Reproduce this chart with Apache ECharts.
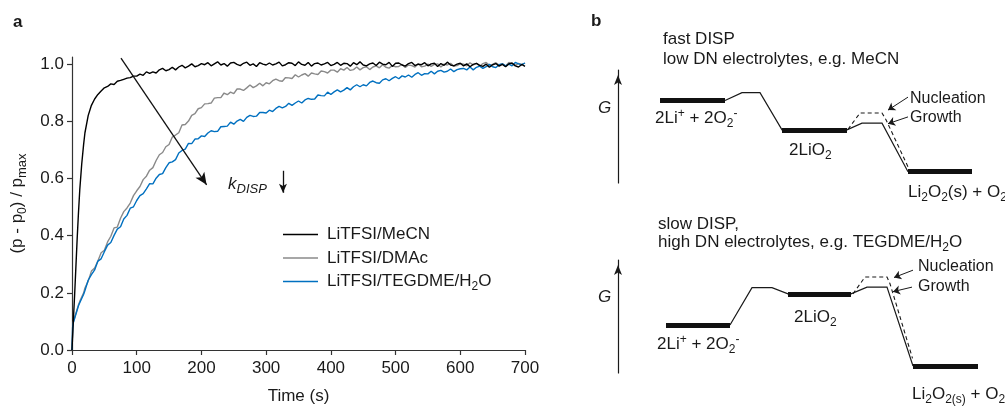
<!DOCTYPE html>
<html><head><meta charset="utf-8">
<script src="https://cdn.jsdelivr.net/npm/echarts@6/dist/echarts.min.js"></script>
<style>html,body{margin:0;padding:0;background:#fff}#c{width:1005px;height:406px}</style>
</head><body><div id="c"></div>
<script>
// ---------- Panel a data ----------
const times = [0,1,2,4,6,8,10,12,15,18,
20,25,30,35,40,45,50,55,60,65,70,75,80,85,90,95,100,
105,110,115,120,125,130,135,140,145,150,155,160,165,170,175,180,185,190,195,200,
205,210,215,220,225,230,235,240,245,250,255,260,265,270,275,280,285,290,295,300,
305,310,315,320,325,330,335,340,345,350,355,360,365,370,375,380,385,390,395,400,
405,410,415,420,425,430,435,440,445,450,455,460,465,470,475,480,485,490,495,500,
505,510,515,520,525,530,535,540,545,550,555,560,565,570,575,580,585,590,595,600,
605,610,615,620,625,630,635,640,645,650,655,660,665,670,675,680,685,690,695,700];
const meCN = [0,0.05,0.10,0.19,0.29,0.39,0.48,0.56,0.65,0.72,
0.76,0.82,0.856,0.878,0.894,0.906,0.917,0.922,0.931,0.929,0.94,0.943,0.947,0.951,0.953,0.958,0.958,
0.965,0.961,0.973,0.968,0.973,0.969,0.98,0.985,0.977,0.981,0.989,0.98,0.99,0.996,0.987,0.993,1.001,0.991,0.995,1.002,
0.998,1.005,0.994,1.001,1.008,0.997,1.002,0.993,1.004,1.006,0.999,0.995,1.003,1.007,0.996,1.001,0.992,1.005,1.0,0.997,
1.004,0.997,1.001,1.007,0.994,0.998,1.005,1.003,0.995,1.008,0.999,0.996,1.006,0.993,1.002,1.004,0.997,1.001,1.006,0.995,
0.999,1.006,0.996,1.003,1.002,0.993,1.005,0.998,1.008,0.997,0.994,1.001,1.004,0.995,1.007,1.0,0.998,1.006,0.992,1.003,
1.004,0.997,0.993,1.002,1.006,0.995,1.0,0.998,1.005,0.994,1.001,1.003,0.992,1.002,0.996,1.007,0.997,0.994,1.0,1.003,
0.994,1.001,0.991,0.999,1.003,0.996,0.992,1.0,0.989,0.998,1.002,0.993,0.999,0.991,1.001,1.004,0.994,0.99,0.999,0.992];
const dmac = [0,0.08,0.097,0.113,0.128,0.143,0.158,0.17,0.185,0.2,
0.217,0.241,0.276,0.287,0.311,0.34,0.349,0.378,0.398,0.427,0.43,0.461,0.484,0.497,0.514,0.54,0.557,
0.572,0.596,0.608,0.629,0.638,0.663,0.683,0.691,0.711,0.719,0.745,0.752,0.76,0.787,0.789,0.801,0.821,0.827,0.844,0.848,
0.861,0.862,0.864,0.881,0.883,0.883,0.899,0.893,0.902,0.897,0.913,0.913,0.908,0.917,0.927,0.918,0.924,0.933,0.924,0.935,
0.931,0.942,0.948,0.942,0.94,0.953,0.952,0.95,0.963,0.955,0.962,0.967,0.958,0.969,0.966,0.964,0.976,0.974,0.969,0.979,
0.979,0.972,0.984,0.979,0.988,0.978,0.981,0.99,0.98,0.988,0.991,0.981,0.99,0.994,0.987,0.998,0.989,0.986,0.995,0.991,
0.992,0.999,0.988,0.997,0.995,0.99,1.001,0.991,0.993,1.0,0.992,0.999,1.001,0.99,1.0,0.997,1.003,0.993,0.995,1.002,
1.0,0.994,1.005,0.997,1.003,0.993,1.002,1.006,0.996,0.999,1.005,0.997,1.002,0.993,1.006,1.001,0.996,1.003,0.998,1.004];
const tegdme = [0,0.08,0.095,0.11,0.125,0.14,0.155,0.165,0.18,0.195,
0.208,0.244,0.264,0.28,0.311,0.319,0.344,0.367,0.376,0.401,0.423,0.431,0.458,0.471,0.496,0.501,0.523,
0.54,0.547,0.564,0.582,0.581,0.601,0.614,0.617,0.638,0.655,0.658,0.666,0.689,0.698,0.703,0.723,0.722,0.738,0.739,0.749,
0.747,0.759,0.767,0.764,0.765,0.781,0.782,0.783,0.797,0.79,0.801,0.807,0.8,0.814,0.821,0.817,0.818,0.831,0.831,0.829,
0.839,0.834,0.845,0.852,0.847,0.852,0.863,0.856,0.864,0.871,0.864,0.875,0.88,0.877,0.878,0.892,0.89,0.889,0.902,0.894,
0.903,0.91,0.903,0.909,0.918,0.91,0.921,0.928,0.921,0.928,0.924,0.936,0.941,0.935,0.933,0.945,0.949,0.942,0.95,0.956,
0.949,0.959,0.955,0.962,0.954,0.964,0.97,0.961,0.967,0.966,0.975,0.966,0.975,0.978,0.972,0.975,0.983,0.974,0.981,0.984,
0.985,0.98,0.99,0.98,0.989,0.993,0.985,0.991,0.999,0.991,0.988,0.998,1.001,0.994,1.0,0.994,1.006,1.001,0.998,1.004];
const seriesNames = ['LiTFSI/MeCN', 'LiTFSI/DMAc', 'LiTFSI/TEGDME/H2O'];
const seriesColors = ['#000000', '#8a8a8a', '#0070c0'];
const xTicks = [0, 100, 200, 300, 400, 500, 600, 700];
const yTicks = [0, 0.2, 0.4, 0.6, 0.8, 1.0];
// trend arrow and k_DISP arrow (time, value)
const trendArrow = [[75.7, 1.021], [208, 0.578]];
const kArrow = [[326, 0.627], [326, 0.55]];

// ---------- Panel b data (reaction coordinate, G in arbitrary units) ----------
const fastLevelG = [7.3, 4.7, 1.0];
const fastLevelX = [[4.2, 10.7], [16.4, 22.9], [29.0, 35.4]];
const fastBarrierG = [8.0, 5.3];
const fastBarrierX = [[12.4, 14.2], [24.4, 26.4]];
const fastNucleation = [[23.0, 4.75], [24.2, 6.2], [26.4, 6.2], [26.8, 5.6], [29.15, 1.15]];
const fastPointers = [[[29.0, 7.6], [27.0, 6.45]], [[29.0, 5.85], [27.0, 5.25]]];
const slowLevelG = [4.25, 7.0, 0.62];
const slowLevelX = [[4.8, 11.2], [17.0, 23.3], [29.5, 36.0]];
const slowBarrierG = [7.55, 7.6];
const slowBarrierX = [[13.4, 15.4], [24.9, 26.9]];
const slowNucleation = [[23.5, 7.0], [24.7, 8.5], [26.9, 8.5], [27.2, 7.9], [29.45, 1.3]];
const slowPointers = [[[29.5, 9.1], [27.6, 8.45]], [[29.4, 7.6], [27.5, 7.2]]];

const FONT = '"Liberation Sans", Arial, Helvetica, sans-serif';
const INK = '#1a1a1a';

function pairs(vals) { return times.map((t, i) => [t, vals[i]]); }
function levelSegs(X, G) { return X.map((x, i) => ({coords: [[x[0], G[i]], [x[1], G[i]]]})); }
function connector(X, G, BX, BG) {
  return [{coords: [
    [X[0][1], G[0]], [BX[0][0], BG[0]], [BX[0][1], BG[0]], [X[1][0], G[1]],
    [X[1][1], G[1]], [BX[1][0], BG[1]], [BX[1][1], BG[1]], [X[2][0], G[2]]
  ]}];
}

const chart = echarts.init(document.getElementById('c'), null, {renderer: 'canvas'});

const richE = {
  sub: {fontSize: 12, fontFamily: FONT, color: INK, padding: [11, 0, 0, 0]},
  sub2: {fontSize: 13, fontFamily: FONT, color: INK, padding: [11, 0, 0, 0]}
};
const richG = {
  sub: {fontSize: 12, fontFamily: FONT, fill: INK, padding: [11, 0, 0, 0]},
  sup: {fontSize: 12, fontFamily: FONT, fill: INK, padding: [0, 0, 9, 0]},
  k: {fontSize: 17, fontFamily: FONT, fill: INK, fontStyle: 'italic'},
  ks: {fontSize: 13, fontFamily: FONT, fill: INK, fontStyle: 'italic', padding: [11, 0, 0, 0]}
};
function txt(x, y, text, extra) {
  return {type: 'text', x: x, y: y, silent: true, z: 100,
    style: Object.assign({text: text, fontSize: 17, fontFamily: FONT, fill: INK,
      verticalAlign: 'middle', align: 'left', rich: richG}, extra || {})};
}

function schemeAxes(gi) {
  return {
    x: {type: 'value', gridIndex: gi, min: 0, max: 38, show: false},
    y: {type: 'value', gridIndex: gi, min: 0, max: 10, show: true,
      axisLine: {show: true, symbol: ['none', 'arrow'], symbolSize: [6, 10], symbolOffset: [0, -5],
        lineStyle: {color: INK, width: 1.2}},
      axisTick: {show: false}, axisLabel: {show: false}, splitLine: {show: false}}
  };
}
const sA = schemeAxes(1), sB = schemeAxes(2);

function schemeSeries(idx, X, G, BX, BG, nuc, ptrs) {
  return [
    {type: 'lines', coordinateSystem: 'cartesian2d', xAxisIndex: idx, yAxisIndex: idx, polyline: true,
      silent: true, data: connector(X, G, BX, BG), lineStyle: {color: INK, width: 1.2, opacity: 1}},
    {type: 'lines', coordinateSystem: 'cartesian2d', xAxisIndex: idx, yAxisIndex: idx, polyline: true,
      silent: true, data: [{coords: nuc}], lineStyle: {color: INK, width: 1.1, type: [4, 3], opacity: 1}},
    {type: 'lines', coordinateSystem: 'cartesian2d', xAxisIndex: idx, yAxisIndex: idx,
      silent: true, data: levelSegs(X, G), lineStyle: {color: '#111', width: 5, opacity: 1, cap: 'butt'}},
    {type: 'lines', coordinateSystem: 'cartesian2d', xAxisIndex: idx, yAxisIndex: idx,
      silent: true, symbol: ['none', 'arrow'], symbolSize: 7,
      data: ptrs.map(p => ({coords: p})), lineStyle: {color: INK, width: 1, opacity: 1}}
  ];
}

function curve(i, vals, extra) {
  return Object.assign({name: seriesNames[i], type: 'line', xAxisIndex: 0, yAxisIndex: 0,
    data: pairs(vals), showSymbol: false, symbol: 'none', silent: true,
    lineStyle: {color: seriesColors[i], width: 1.4}, itemStyle: {color: seriesColors[i]}}, extra || {});
}

const option = {
  animation: false,
  backgroundColor: '#fff',
  textStyle: {fontFamily: FONT},
  grid: [
    {left: 72, top: 57, width: 453, height: 293, outerBoundsMode: 'none', containLabel: false},
    {left: 618, top: 70, width: 380, height: 113, outerBoundsMode: 'none', containLabel: false},
    {left: 618, top: 260, width: 380, height: 113, outerBoundsMode: 'none', containLabel: false}
  ],
  xAxis: [
    {type: 'value', gridIndex: 0, min: 0, max: 700, interval: 100,
      name: 'Time (s)', nameLocation: 'middle', nameGap: 38,
      nameTextStyle: {fontSize: 17, color: INK, fontFamily: FONT},
      axisLine: {lineStyle: {color: '#333', width: 1.2}},
      axisTick: {length: 5, lineStyle: {color: '#333', width: 1.2}},
      axisLabel: {fontSize: 17, color: INK, fontFamily: FONT, margin: 10, customValues: xTicks},
      splitLine: {show: false}},
    sA.x, sB.x
  ],
  yAxis: [
    {type: 'value', gridIndex: 0, min: 0, max: 1.025,
      name: '(p - p{sub|0}) / p{sub2|max}', nameLocation: 'middle', nameRotate: 90, nameGap: 43,
      nameTextStyle: {fontSize: 17, color: INK, fontFamily: FONT, rich: richE},
      axisLine: {show: true, lineStyle: {color: '#333', width: 1.2}},
      axisTick: {show: true, length: 5, lineStyle: {color: '#333', width: 1.2}, customValues: yTicks},
      axisLabel: {fontSize: 17, color: INK, fontFamily: FONT, margin: 8, customValues: yTicks,
        formatter: v => v.toFixed(1)},
      splitLine: {show: false}},
    sA.y, sB.y
  ],
  legend: {
    data: seriesNames, orient: 'vertical', left: 283, top: 226, padding: 0,
    itemWidth: 35, itemHeight: 12, itemGap: 6.5, selectedMode: false,
    icon: 'path://M0,0H35V1.5H0Z',
    textStyle: {fontSize: 17, color: INK, fontFamily: FONT, padding: [0, 0, 0, 4], rich: richE},
    formatter: n => n.replace('H2O', 'H{sub|2}O')
  },
  series: [
    curve(1, dmac),
    curve(2, tegdme),
    curve(0, meCN, {
      markLine: {silent: true, symbol: ['none', 'arrow'], animation: false,
        lineStyle: {color: '#111', width: 1.3, type: 'solid'}, label: {show: false},
        emphasis: {disabled: true},
        data: [
          [{coord: trendArrow[0], symbol: 'none'}, {coord: trendArrow[1], symbol: 'arrow', symbolSize: [8, 12]}],
          [{coord: kArrow[0], symbol: 'none'}, {coord: kArrow[1], symbol: 'arrow', symbolSize: [6, 9]}]
        ]}})
  ].concat(schemeSeries(1, fastLevelX, fastLevelG, fastBarrierX, fastBarrierG, fastNucleation, fastPointers))
   .concat(schemeSeries(2, slowLevelX, slowLevelG, slowBarrierX, slowBarrierG, slowNucleation, slowPointers)),
  graphic: {elements: [
    txt(13, 22, 'a', {fontWeight: 'bold'}),
    txt(591, 21, 'b', {fontWeight: 'bold'}),
    txt(228, 184, '{k|k}{ks|DISP}'),
    txt(663, 39, 'fast DISP'),
    txt(663, 59, 'low DN electrolytes, e.g. MeCN'),
    txt(598, 108, 'G', {fontStyle: 'italic'}),
    txt(655, 118, '2Li{sup|+} + 2O{sub|2}{sup|-}'),
    txt(789, 150, '2LiO{sub|2}'),
    txt(910, 99, 'Nucleation', {fontSize: 16}),
    txt(910, 118, 'Growth', {fontSize: 16}),
    txt(908, 192, 'Li{sub|2}O{sub|2}(s) + O{sub|2}'),
    txt(658, 224, 'slow DISP,'),
    txt(658, 242, 'high DN electrolytes, e.g. TEGDME/H{sub|2}O'),
    txt(598, 297, 'G', {fontStyle: 'italic'}),
    txt(657, 344, '2Li{sup|+} + 2O{sub|2}{sup|-}'),
    txt(794, 317, '2LiO{sub|2}'),
    txt(918, 267, 'Nucleation', {fontSize: 16}),
    txt(918, 287, 'Growth', {fontSize: 16}),
    txt(912, 394, 'Li{sub|2}O{sub|2(s)} + O{sub|2}')
  ]}
};
chart.setOption(option);
</script></body></html>
